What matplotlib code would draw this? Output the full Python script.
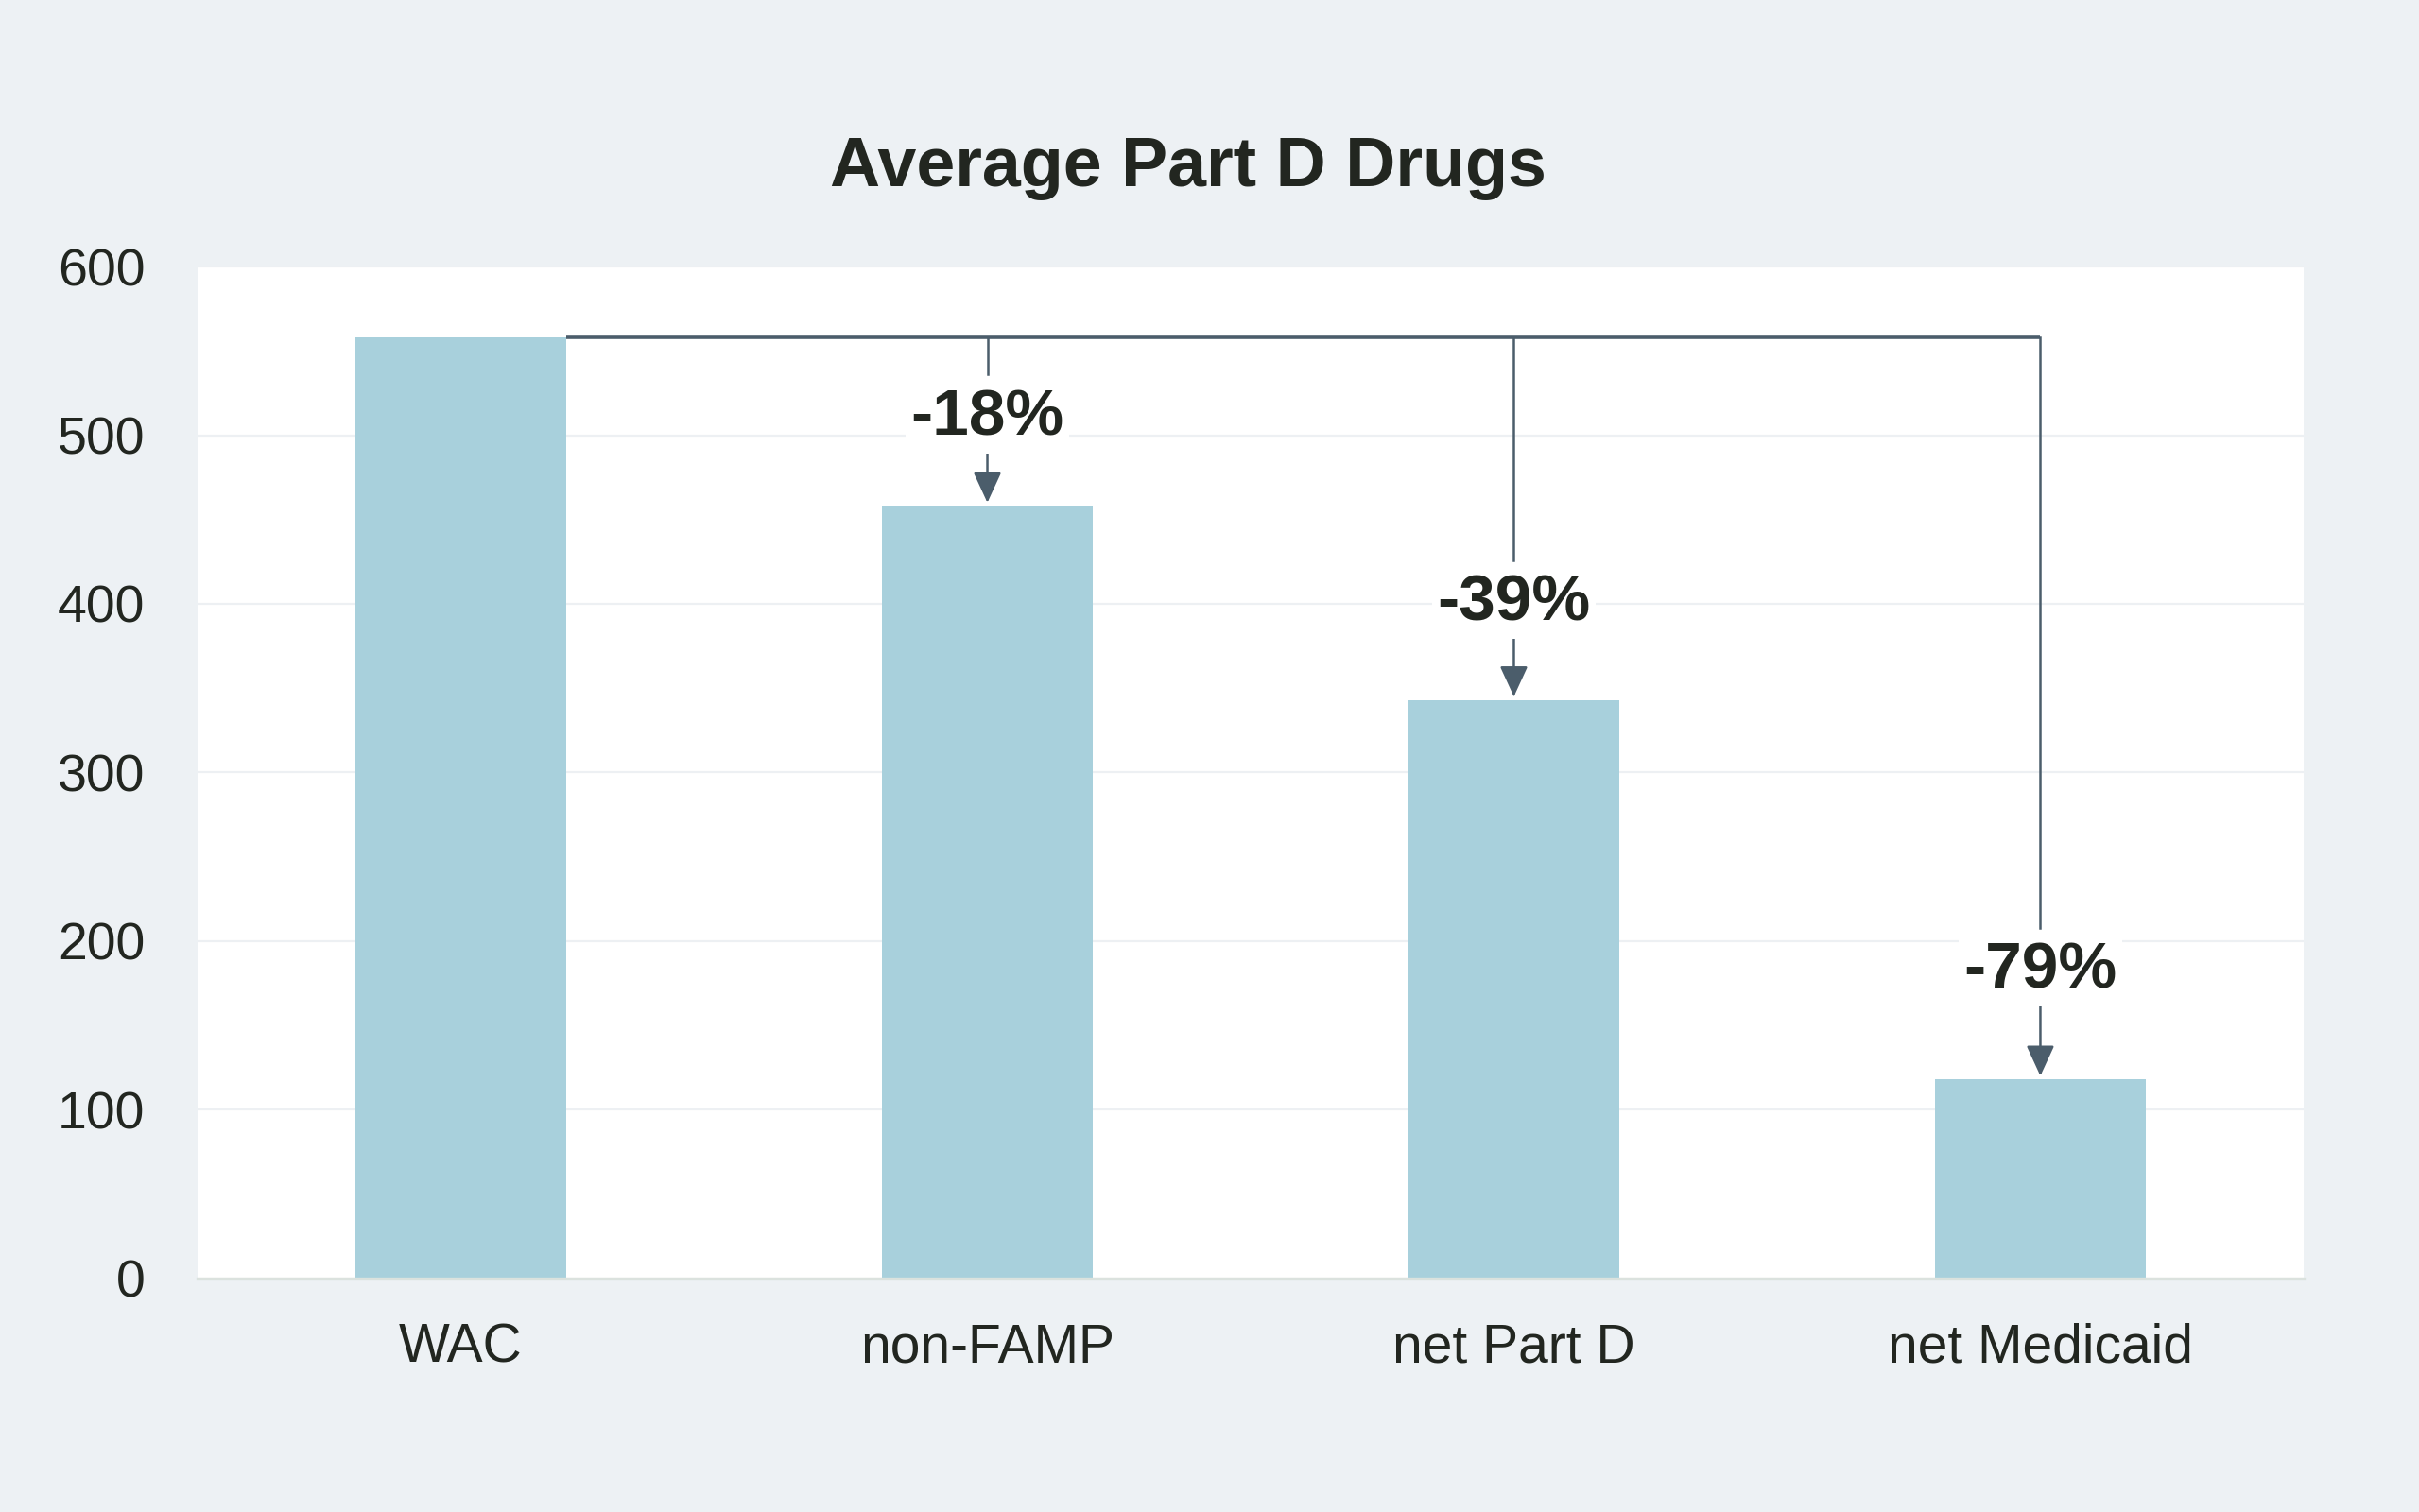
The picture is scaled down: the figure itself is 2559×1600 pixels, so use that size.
import matplotlib
matplotlib.use("Agg")
import matplotlib.pyplot as plt

categories = ["WAC", "non-FAMP", "net Part D", "net Medicaid"]
values = [558, 458, 343, 118]
change_labels = ["-18%", "-39%", "-79%"]
label_offsets = [55, 60, 67]   # label centre above its bar (data units)
yticks = [0, 100, 200, 300, 400, 500, 600]

BG = "#edf1f4"
BAR = "#a8d0dc"
LINE = "#4b5d6b"
TXT = "#222620"

plt.rcParams["font.family"] = ["Liberation Sans", "DejaVu Sans"]

fig = plt.figure(figsize=(12.795, 8.0), dpi=200, facecolor=BG)
ax = fig.add_axes([0.0817, 0.1546, 0.8706, 0.6691])
ax.set_facecolor("white")

x = list(range(len(categories)))
ax.bar(x, values, width=0.4, color=BAR, zorder=2)

ax.set_xlim(-0.5, len(categories) - 0.5)
ax.set_ylim(0, 600)
ax.set_yticks(yticks)
ax.set_xticks(x)
ax.set_xticklabels(categories)
ax.tick_params(axis="both", length=0, colors=TXT)
ax.tick_params(axis="y", labelsize=20, pad=20)
ax.tick_params(axis="x", labelsize=20.5, pad=17)
for lab in ax.get_yticklabels() + ax.get_xticklabels():
    lab.set_color(TXT)

ax.grid(axis="y", color="#edf0f3", lw=0.8, zorder=0)
ax.set_axisbelow(True)
for s in ["top", "right", "left"]:
    ax.spines[s].set_visible(False)
ax.spines["bottom"].set_color("#dbe2de")
ax.spines["bottom"].set_linewidth(1.2)
ax.spines["bottom"].set_zorder(3)

wac = values[0]
half_box = 23  # half height of label gap, data units
# horizontal connector from WAC bar edge to last category centre
ax.plot([0.2, x[-1]], [wac, wac], color=LINE, lw=1.3, solid_capstyle="butt", zorder=4)

for i, (lab, off) in enumerate(zip(change_labels, label_offsets), start=1):
    v = values[i]
    ly = v + off
    ax.plot([i, i], [wac, ly + half_box], color=LINE, lw=0.9, zorder=4)
    ax.annotate("", xy=(i, v + 2), xytext=(i, ly - half_box),
                arrowprops=dict(arrowstyle="-|>,head_length=0.5,head_width=0.23",
                                color=LINE, lw=0.9, shrinkA=0, shrinkB=0,
                                mutation_scale=20),
                zorder=4)
    ax.text(i, ly - 3, lab, ha="center", va="center", fontsize=25, fontweight="bold",
            color=TXT, zorder=5,
            bbox=dict(boxstyle="square,pad=0.08", fc="white", ec="none"))

fig.text(0.491, 1 - 177 / 1600, "Average Part D Drugs", ha="center", va="center",
         fontsize=26.5, fontweight="bold", color=TXT)

fig.savefig("out.png", dpi=200, facecolor=BG)
